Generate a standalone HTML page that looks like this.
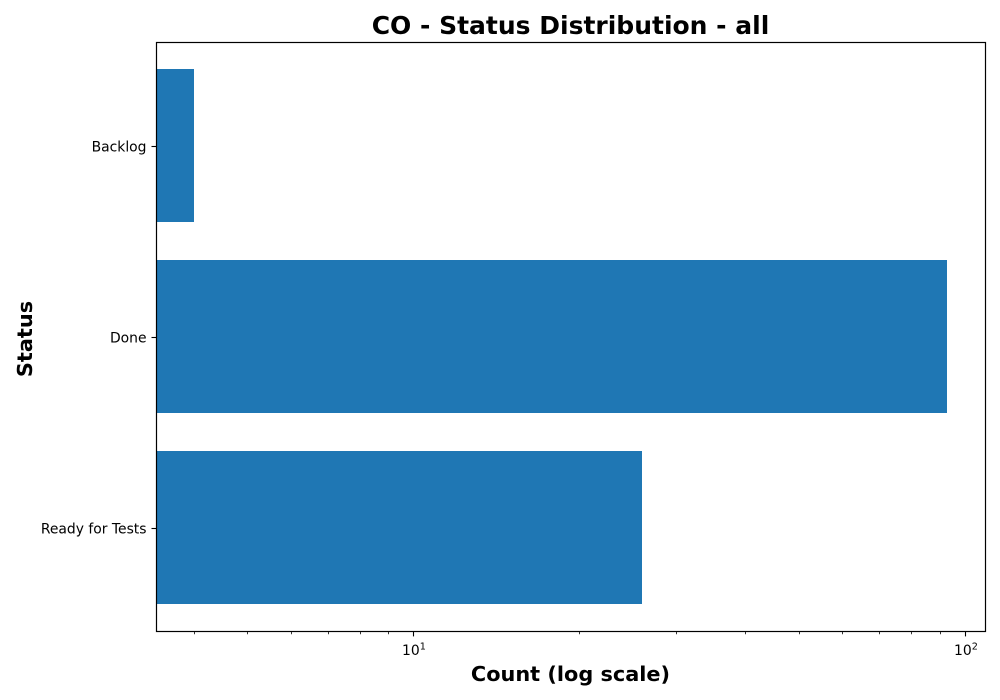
<!DOCTYPE html>
<html>
<head>
<meta charset="utf-8">
<title>CO - Status Distribution - all</title>
<style>
html,body{margin:0;padding:0;background:#fff;width:1000px;height:700px;overflow:hidden}
svg{display:block;font-family:"DejaVu Sans","Liberation Sans",sans-serif}
</style>
</head>
<body>
<svg id="chart" width="1000" height="700" viewBox="0 0 1000 700" xmlns="http://www.w3.org/2000/svg">
<g id="bars" shape-rendering="crispEdges"></g>
<g id="ticks"></g>
<rect x="156.5" y="42.5" width="829" height="589" fill="none" stroke="#000" stroke-width="1.2"/>
<text x="570.5" y="34" text-anchor="middle" font-size="25" font-weight="bold" fill="#000">CO - Status Distribution - all</text>
<text x="570.5" y="681" text-anchor="middle" font-size="20.83" font-weight="bold" fill="#000">Count (log scale)</text>
<text transform="translate(32,339) rotate(-90)" text-anchor="middle" font-size="20.83" font-weight="bold" fill="#000">Status</text>
</svg>
<script>
const categories = ["Backlog", "Done", "Ready for Tests"];
const counts = [4, 93, 26];
const majorTicks = [10, 100];
const minorTicks = [4, 5, 6, 7, 8, 9, 20, 30, 40, 50, 60, 70, 80, 90];

const NS = "http://www.w3.org/2000/svg";
const barsLayer = document.getElementById("bars");
const ticksLayer = document.getElementById("ticks");

function xScale(v) { return 413.1 + 551.7 * (Math.log10(v) - 1); }
function yScale(i) { return 145.5 + 191 * i; }
const bandHeight = 153;
const plotLeft = 156;
const plotBottom = 631.5;

function tickLine(x1, y1, x2, y2, w) {
  const l = document.createElementNS(NS, "line");
  l.setAttribute("x1", x1);
  l.setAttribute("y1", y1);
  l.setAttribute("x2", x2);
  l.setAttribute("y2", y2);
  l.setAttribute("stroke", "#000");
  l.setAttribute("stroke-width", w);
  return l;
}

categories.forEach(function (name, i) {
  const r = document.createElementNS(NS, "rect");
  
  
  r.setAttribute("x", plotLeft);
  r.setAttribute("y", yScale(i) - bandHeight / 2);
  r.setAttribute("width", Math.round(xScale(counts[i])) - plotLeft);
  r.setAttribute("height", bandHeight);
  r.setAttribute("fill", "#1f77b4");
  barsLayer.appendChild(r);

  const cy = Math.round(yScale(i)) + 0.5;
  const t = tickLine(plotLeft - 4.5, cy, plotLeft, cy, 1.1);
  
  
  ticksLayer.appendChild(t);

  const lab = document.createElementNS(NS, "text");
  
  
  lab.setAttribute("x", plotLeft - 9.5);
  lab.setAttribute("y", cy + 5);
  lab.setAttribute("text-anchor", "end");
  lab.setAttribute("font-size", "13.9");
  lab.setAttribute("fill", "#000");
  lab.textContent = name;
  ticksLayer.appendChild(lab);
});

minorTicks.forEach(function (v) {
  const x = Math.round(xScale(v)) + 0.5;
  const t = tickLine(x, plotBottom, x, plotBottom + 2.8, 0.8);
  
  
  ticksLayer.appendChild(t);
});

majorTicks.forEach(function (v) {
  const x = Math.round(xScale(v)) + 0.5;
  const t = tickLine(x, plotBottom, x, plotBottom + 4.9, 1.1);
  
  
  ticksLayer.appendChild(t);

  const lab = document.createElementNS(NS, "text");
  
  
  lab.setAttribute("x", x - 11.5);
  lab.setAttribute("y", 655);
  lab.setAttribute("font-size", "13.9");
  lab.setAttribute("fill", "#000");
  lab.textContent = "10";
  const sup = document.createElementNS(NS, "tspan");
  sup.setAttribute("font-size", "9.7");
  sup.setAttribute("dy", "-5.5");
  sup.textContent = String(Math.round(Math.log10(v)));
  lab.appendChild(sup);
  ticksLayer.appendChild(lab);
});
</script>
</body>
</html>
